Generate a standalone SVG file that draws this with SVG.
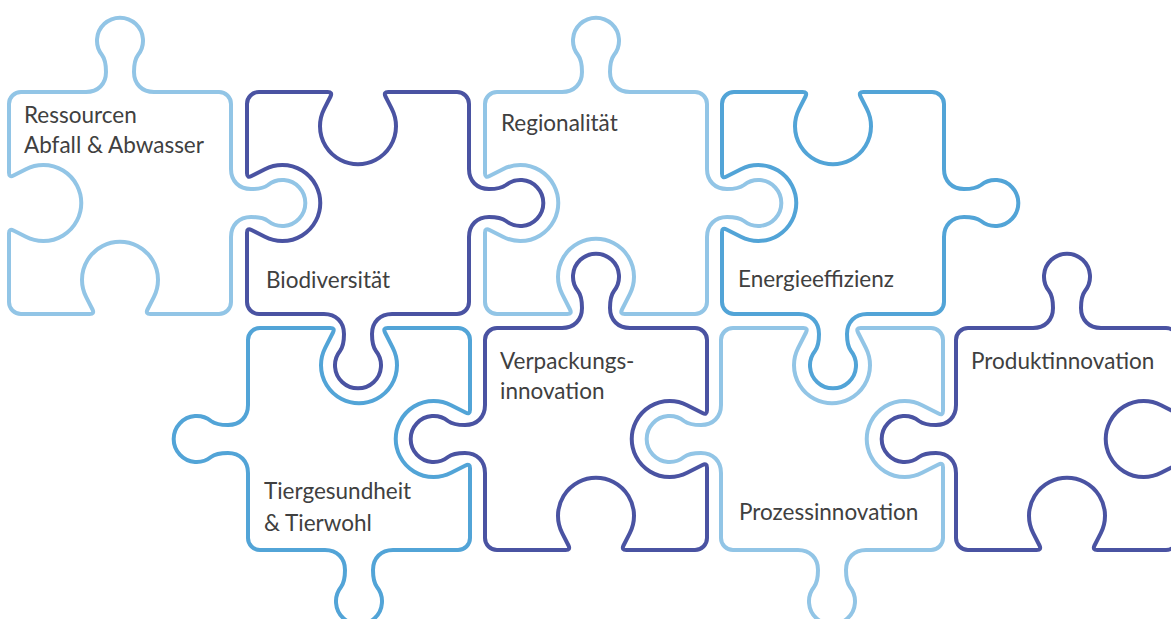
<svg xmlns="http://www.w3.org/2000/svg" width="1171" height="619" viewBox="0 0 1171 619">
  <style>
    .piece { fill: none; stroke-width: 4; stroke-linejoin: round; }
    .light { stroke: #92c5e6; }
    .mid { stroke: #52a4d7; }
    .dark { stroke: #4a53a2; }
    .label { font-family: Lato, "Open Sans", sans-serif; font-size: 22.5px; fill: #404040; }
  </style>
  <rect width="1171" height="619" fill="#ffffff"/>

  <!-- Ressourcen: top tab, right tab, bottom blank, left blank -->
  <g id="ressourcen" transform="translate(9,92)">
    <path class="piece light" d="M12,0 L77,0 C89,0 97,-8 97,-20 C97,-28 96,-33 93,-37 A23,23 0 1 1 129,-37 C126,-33 125,-28 125,-20 C125,-8 133,0 145,0 L210,0 A12,12 0 0 1 222,12
      L222,77 C222,89 230,97 242,97 C250,97 255,96 259,93 A23,23 0 1 1 259,129 C255,126 250,125 242,125 C230,125 222,133 222,145 L222,210 A12,12 0 0 1 210,222
      L141.3,222 Q136.3,222 138.5,217.5 L144.8,205.1 A38,38 0 1 0 77.2,205.1 L83.5,217.5 Q85.7,222 80.7,222 L12,222 A12,12 0 0 1 0,210
      L0,141.3 Q0,136.3 4.5,138.5 L16.9,144.8 A38,38 0 1 0 16.9,77.2 L4.5,83.5 Q0,85.7 0,80.7 L0,12 A12,12 0 0 1 12,0 Z"/>
    <text class="label" x="15" y="31">Ressourcen</text>
    <text class="label" x="15" y="61">Abfall &amp; Abwasser</text>
  </g>

  <!-- Biodiversität: top blank, right tab, bottom tab, left blank -->
  <g id="biodiversitaet" transform="translate(247,92)">
    <path class="piece dark" d="M12,0 L80.7,0 Q85.7,0 83.5,4.5 L77.2,16.9 A38,38 0 1 0 144.8,16.9 L138.5,4.5 Q136.3,0 141.3,0 L210,0 A12,12 0 0 1 222,12
      L222,77 C222,89 230,97 242,97 C250,97 255,96 259,93 A23,23 0 1 1 259,129 C255,126 250,125 242,125 C230,125 222,133 222,145 L222,210 A12,12 0 0 1 210,222
      L145,222 C133,222 125,230 125,242 C125,250 126,255 129,259 A23,23 0 1 1 93,259 C96,255 97,250 97,242 C97,230 89,222 77,222 L12,222 A12,12 0 0 1 0,210
      L0,140.7 Q0,135.7 4.5,138 L17.9,144.8 A38,38 0 1 0 17.9,77.2 L4.5,84 Q0,86.3 0,81.3 L0,12 A12,12 0 0 1 12,0 Z"/>
    <text class="label" x="19" y="196">Biodiversität</text>
  </g>

  <!-- Regionalität: top tab, right tab, bottom blank, left blank -->
  <g id="regionalitaet" transform="translate(485,92)">
    <path class="piece light" d="M12,0 L77,0 C89,0 97,-8 97,-20 C97,-28 96,-33 93,-37 A23,23 0 1 1 129,-37 C126,-33 125,-28 125,-20 C125,-8 133,0 145,0 L210,0 A12,12 0 0 1 222,12
      L222,77 C222,89 230,97 242,97 C250,97 255,96 259,93 A23,23 0 1 1 259,129 C255,126 250,125 242,125 C230,125 222,133 222,145 L222,210 A12,12 0 0 1 210,222
      L139.7,222 Q134.7,222 137,217.5 L144.8,202.1 A38,38 0 1 0 77.2,202.1 L85,217.5 Q87.3,222 82.3,222 L12,222 A12,12 0 0 1 0,210
      L0,140.7 Q0,135.7 4.5,138 L17.9,144.8 A38,38 0 1 0 17.9,77.2 L4.5,84 Q0,86.3 0,81.3 L0,12 A12,12 0 0 1 12,0 Z"/>
    <text class="label" x="16" y="39">Regionalität</text>
  </g>

  <!-- Energieeffizienz: top blank, right tab, bottom tab, left blank -->
  <g id="energieeffizienz" transform="translate(722,92)">
    <path class="piece mid" d="M12,0 L80.7,0 Q85.7,0 83.5,4.5 L77.2,16.9 A38,38 0 1 0 144.8,16.9 L138.5,4.5 Q136.3,0 141.3,0 L210,0 A12,12 0 0 1 222,12
      L222,77 C222,89 230,97 242,97 C250,97 255,96 259,93 A23,23 0 1 1 259,129 C255,126 250,125 242,125 C230,125 222,133 222,145 L222,210 A12,12 0 0 1 210,222
      L145,222 C133,222 125,230 125,242 C125,250 126,255 129,259 A23,23 0 1 1 93,259 C96,255 97,250 97,242 C97,230 89,222 77,222 L12,222 A12,12 0 0 1 0,210
      L0,140.2 Q0,135.2 4.5,137.5 L18.9,144.8 A38,38 0 1 0 18.9,77.2 L4.5,84.5 Q0,86.8 0,81.8 L0,12 A12,12 0 0 1 12,0 Z"/>
    <text class="label" x="16" y="195">Energieeffizienz</text>
  </g>

  <!-- Tiergesundheit & Tierwohl: top blank, right blank, bottom tab, left tab -->
  <g id="tiergesundheit" transform="translate(248,328)">
    <path class="piece mid" d="M12,0 L82.3,0 Q87.3,0 85,4.5 L77.2,19.9 A38,38 0 1 0 144.8,19.9 L137,4.5 Q134.7,0 139.7,0 L210,0 A12,12 0 0 1 222,12
      L222,81.8 Q222,86.8 217.5,84.5 L203.1,77.2 A38,38 0 1 0 203.1,144.8 L217.5,137.5 Q222,135.2 222,140.2 L222,210 A12,12 0 0 1 210,222
      L145,222 C133,222 125,230 125,242 C125,250 126,255 129,259 A23,23 0 1 1 93,259 C96,255 97,250 97,242 C97,230 89,222 77,222 L12,222 A12,12 0 0 1 0,210
      L0,145 C0,133 -8,125 -20,125 C-28,125 -33,126 -37,129 A23,23 0 1 1 -37,93 C-33,96 -28,97 -20,97 C-8,97 0,89 0,77 L0,12 A12,12 0 0 1 12,0 Z"/>
    <text class="label" x="16" y="171">Tiergesundheit</text>
    <text class="label" x="16" y="203">&amp; Tierwohl</text>
  </g>

  <!-- Verpackungsinnovation: top tab, right blank, bottom blank, left tab -->
  <g id="verpackungsinnovation" transform="translate(485,328)">
    <path class="piece dark" d="M12,0 L77,0 C89,0 97,-8 97,-20 C97,-28 96,-33 93,-37 A23,23 0 1 1 129,-37 C126,-33 125,-28 125,-20 C125,-8 133,0 145,0 L210,0 A12,12 0 0 1 222,12
      L222,82.3 Q222,87.3 217.5,85 L202.1,77.2 A38,38 0 1 0 202.1,144.8 L217.5,137 Q222,134.7 222,139.7 L222,210 A12,12 0 0 1 210,222
      L141.3,222 Q136.3,222 138.5,217.5 L144.8,205.1 A38,38 0 1 0 77.2,205.1 L83.5,217.5 Q85.7,222 80.7,222 L12,222 A12,12 0 0 1 0,210
      L0,145 C0,133 -8,125 -20,125 C-28,125 -33,126 -37,129 A23,23 0 1 1 -37,93 C-33,96 -28,97 -20,97 C-8,97 0,89 0,77 L0,12 A12,12 0 0 1 12,0 Z"/>
    <text class="label" x="15" y="41">Verpackungs-</text>
    <text class="label" x="15" y="71">innovation</text>
  </g>

  <!-- Prozessinnovation: top blank, right blank, bottom tab, left tab -->
  <g id="prozessinnovation" transform="translate(721,328)">
    <path class="piece light" d="M12,0 L82.3,0 Q87.3,0 85,4.5 L77.2,19.9 A38,38 0 1 0 144.8,19.9 L137,4.5 Q134.7,0 139.7,0 L210,0 A12,12 0 0 1 222,12
      L222,82.8 Q222,87.8 217.5,85.5 L201.1,77.2 A38,38 0 1 0 201.1,144.8 L217.5,136.5 Q222,134.2 222,139.2 L222,210 A12,12 0 0 1 210,222
      L145,222 C133,222 125,230 125,242 C125,250 126,255 129,259 A23,23 0 1 1 93,259 C96,255 97,250 97,242 C97,230 89,222 77,222 L12,222 A12,12 0 0 1 0,210
      L0,145 C0,133 -8,125 -20,125 C-28,125 -33,126 -37,129 A23,23 0 1 1 -37,93 C-33,96 -28,97 -20,97 C-8,97 0,89 0,77 L0,12 A12,12 0 0 1 12,0 Z"/>
    <text class="label" x="18" y="192">Prozessinnovation</text>
  </g>

  <!-- Produktinnovation: top tab, right blank, bottom blank, left tab -->
  <g id="produktinnovation" transform="translate(956,328)">
    <path class="piece dark" d="M12,0 L77,0 C89,0 97,-8 97,-20 C97,-28 96,-33 93,-37 A23,23 0 1 1 129,-37 C126,-33 125,-28 125,-20 C125,-8 133,0 145,0 L210,0 A12,12 0 0 1 222,12
      L222,80.7 Q222,85.7 217.5,83.5 L205.1,77.2 A38,38 0 1 0 205.1,144.8 L217.5,138.5 Q222,136.3 222,141.3 L222,210 A12,12 0 0 1 210,222
      L141.3,222 Q136.3,222 138.5,217.5 L144.8,205.1 A38,38 0 1 0 77.2,205.1 L83.5,217.5 Q85.7,222 80.7,222 L12,222 A12,12 0 0 1 0,210
      L0,145 C0,133 -8,125 -20,125 C-28,125 -33,126 -37,129 A23,23 0 1 1 -37,93 C-33,96 -28,97 -20,97 C-8,97 0,89 0,77 L0,12 A12,12 0 0 1 12,0 Z"/>
    <text class="label" x="15" y="41">Produktinnovation</text>
  </g>
</svg>
